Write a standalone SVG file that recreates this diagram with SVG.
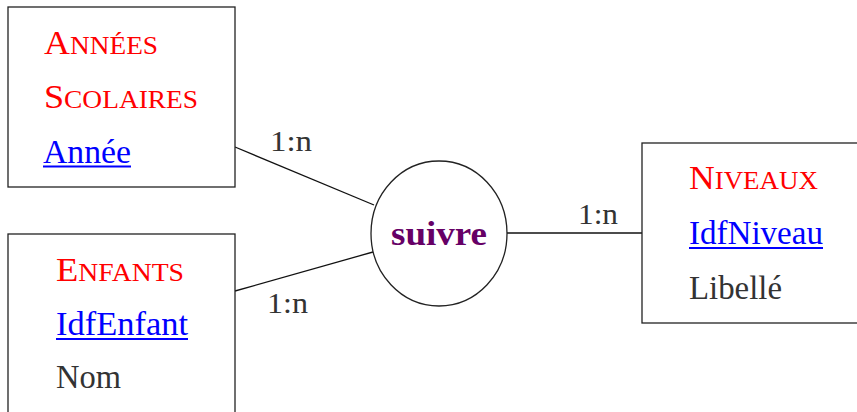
<svg xmlns="http://www.w3.org/2000/svg" width="857" height="412" viewBox="0 0 857 412">
<style>
text{font-family:"Liberation Serif","Tinos","Times New Roman","DejaVu Serif","Noto Serif",serif;font-size:33px}
.box{fill:#fff;stroke:#222;stroke-width:1.3}
.title{fill:#ff0000}
.sc{font-size:25px}
.key{fill:#0000ff}
.attr{fill:#333}
.ul{stroke:#0000ff;stroke-width:2}
.lbl{fill:#333;font-size:30px}
.edge{stroke:#111;stroke-width:1.3;fill:none}
</style>
<g id="connectors">
<line class="edge" x1="235" y1="147" x2="374" y2="205"/>
<line class="edge" x1="235" y1="291" x2="373" y2="252"/>
<line class="edge" x1="507" y1="233" x2="642" y2="233"/>
<text class="lbl" x="270" y="151" textLength="42" lengthAdjust="spacingAndGlyphs">1:n</text>
<text class="lbl" x="267" y="313" textLength="41" lengthAdjust="spacingAndGlyphs">1:n</text>
<text class="lbl" x="578" y="224" textLength="40" lengthAdjust="spacingAndGlyphs">1:n</text>
</g>
<g id="annees-scolaires">
<rect class="box" x="8" y="7" width="227" height="180"/>
<text class="title" x="44" y="54" textLength="114" lengthAdjust="spacingAndGlyphs">A<tspan class="sc">NNÉES</tspan></text>
<text class="title" x="44" y="108" textLength="154" lengthAdjust="spacingAndGlyphs">S<tspan class="sc">COLAIRES</tspan></text>
<text class="key" x="43" y="163" textLength="88" lengthAdjust="spacingAndGlyphs">Année</text>
<line class="ul" x1="43" y1="166.5" x2="131" y2="166.5"/>
</g>
<g id="enfants">
<rect class="box" x="8" y="234" width="227" height="200"/>
<text class="title" x="56" y="281" textLength="128" lengthAdjust="spacingAndGlyphs">E<tspan class="sc">NFANTS</tspan></text>
<text class="key" x="56" y="335" textLength="132" lengthAdjust="spacingAndGlyphs">IdfEnfant</text>
<line class="ul" x1="56" y1="339" x2="188" y2="339"/>
<text class="attr" x="56" y="388" textLength="65" lengthAdjust="spacingAndGlyphs">Nom</text>
</g>
<g id="niveaux">
<rect class="box" x="642" y="143" width="230" height="180"/>
<text class="title" x="689" y="189" textLength="129" lengthAdjust="spacingAndGlyphs">N<tspan class="sc">IVEAUX</tspan></text>
<text class="key" x="689" y="244" textLength="134" lengthAdjust="spacingAndGlyphs">IdfNiveau</text>
<line class="ul" x1="689" y1="248" x2="823" y2="248"/>
<text class="attr" x="689" y="299" textLength="93" lengthAdjust="spacingAndGlyphs">Libellé</text>
</g>
<g id="suivre">
<ellipse class="box" cx="439" cy="233.5" rx="68" ry="72.5"/>
<text x="391" y="245" textLength="96" lengthAdjust="spacingAndGlyphs" style="fill:#660066;font-weight:bold;font-size:33px">suivre</text>
</g>
</svg>
